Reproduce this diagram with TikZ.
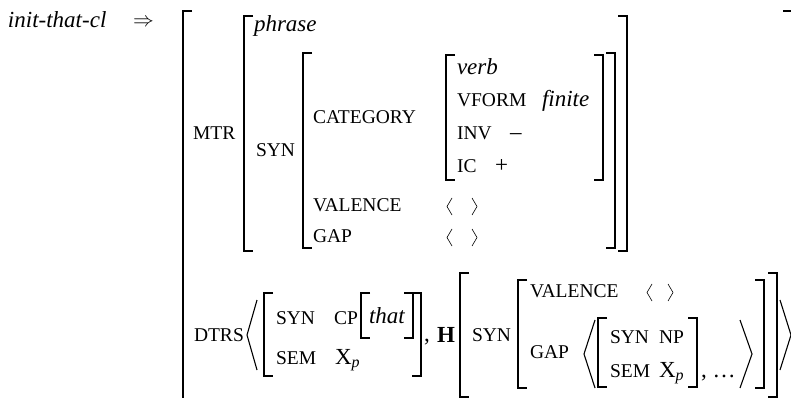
\documentclass[tikz,border=0pt]{standalone}
\usepackage{fontspec}
\setmainfont{Liberation Serif}
\newcommand\fsMain{\fontsize{23}{27}\selectfont}
\newcommand\fsLab{\fontsize{19.5}{23}\selectfont}
\newcommand\fsSub{\fontsize{16}{18}\selectfont}
% brackets: x, top, bottom
\newcommand\fsLB[3]{\draw[brk] (#1+9,#2) -- (#1,#2) -- (#1,#3) -- (#1+9,#3);}
\newcommand\fsRB[3]{\draw[brk] (#1-9,#2) -- (#1,#2) -- (#1,#3) -- (#1-9,#3);}
% big angles: x of ends, top, tip x, bottom
\newcommand\fsLA[4]{\draw[ang] (#1,#2) -- (#3,{(#2+#4)/2}) -- (#1,#4);}
% small angle pair: x left, top, bottom, x right
\newcommand\fsSA[4]{\draw[sang] (#1+5,#2) -- (#1,{(#2+#3)/2}) -- (#1+5,#3);
  \draw[sang] (#4-5,#2) -- (#4,{(#2+#3)/2}) -- (#4-5,#3);}
\tikzset{
  txt/.style={anchor=base west, inner sep=0pt, outer sep=0pt, font=\fsMain},
  lab/.style={txt, font=\fsLab},
  itx/.style={txt, font=\fsMain\itshape},
  brk/.style={line width=1.4pt, line cap=butt, line join=miter},
  ang/.style={line width=1.1pt, line join=miter},
  sang/.style={line width=0.6pt},
}
\begin{document}
\begin{tikzpicture}[x=1pt, y=-1pt]
\useasboundingbox (0,0) rectangle (791,398);
% heading
\node[itx] (rule) at (8,28) {init-that-cl};
\node[txt, font=\fontsize{21}{25}\selectfont] (arrow) at (133,27) {$\Rightarrow$};
% outer bracket
\fsLB{183}{11}{410}
\fsRB{792}{11}{410}
% MTR
\node[lab] (mtr) at (193,140) {MTR};
\fsLB{244}{16}{251}
\fsRB{627}{16}{251}
\node[itx] (phrase) at (254,32) {phrase};
\node[lab] (syn1) at (256,157) {SYN};
\fsLB{303}{53}{248}
\fsRB{615}{53}{248}
\node[lab] (cat) at (313,124) {CATEGORY};
\fsLB{446}{55}{180}
\fsRB{603}{55}{180}
\node[itx] (verb) at (457,75) {verb};
\node[lab] (vform) at (457,107) {VFORM};
\node[itx] (finite) at (542,107) {finite};
\node[lab] (inv) at (457,140) {INV};
\node[txt] (minus) at (510,140) {–};
\node[lab] (ic) at (457,172) {IC};
\node[txt] (plus) at (495,172) {+};
\node[lab] (val1) at (313,211) {VALENCE};
\fsSA{447}{198}{215}{477}
\node[lab] (gap1) at (313,242) {GAP};
\fsSA{447}{229}{246}{477}
% DTRS
\node[lab] (dtrs) at (194,341) {DTRS};
\fsLA{257}{300}{247}{370}
\fsLB{264}{293}{376}
\fsRB{421}{293}{376}
\node[lab] (syn2) at (276,324) {SYN};
\node[lab] (cp) at (334,324) {CP};
\fsLB{361}{293}{338}
\fsRB{413}{293}{338}
\node[itx] (that) at (369,323) {that};
\node[lab] (sem2) at (276,364) {SEM};
\node[txt] (xp1) at (335,364) {X\raisebox{-3pt}{\fsSub\itshape p}};
\node[txt] (comma1) at (424,341) {,};
\node[txt, font=\fsMain\bfseries] (head) at (437,342) {H};
\fsLB{460}{273}{397}
\fsRB{777}{273}{397}
\node[lab] (syn3) at (472,341) {SYN};
\fsLB{518}{280}{388}
\fsRB{764}{280}{388}
\node[lab] (val3) at (530,297) {VALENCE};
\fsSA{647}{284}{301}{673}
\node[lab] (gap3) at (530,358) {GAP};
\fsLA{595}{320}{584}{388}
\fsLB{598}{318}{387}
\fsRB{697}{318}{387}
\node[lab] (syn4) at (610,343) {SYN};
\node[lab] (np) at (659,343) {NP};
\node[lab] (sem4) at (610,377) {SEM};
\node[txt] (xp2) at (659,377) {X\raisebox{-3pt}{\fsSub\itshape p}};
\node[txt] (dots) at (701,377) {, …};
\fsLA{740}{320}{752}{388}
\fsLA{780}{300}{791}{370}
\end{tikzpicture}
\end{document}
